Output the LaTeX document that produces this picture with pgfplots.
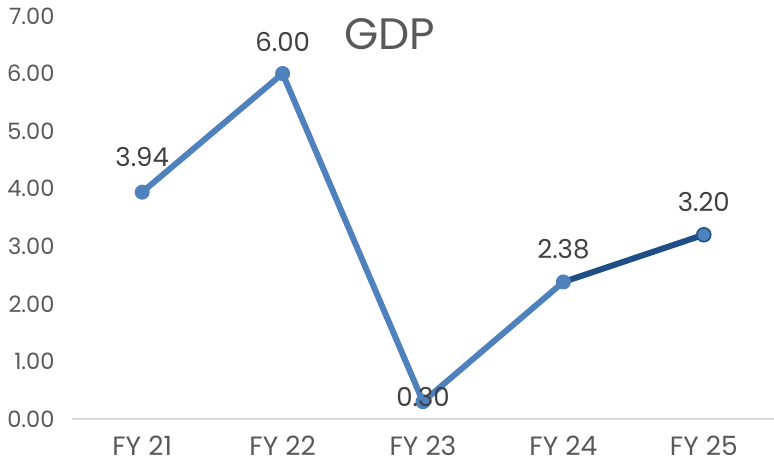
\documentclass[border=0pt]{standalone}
\usepackage{pgfplots}
\pgfplotsset{compat=1.18}
\usepackage{fontspec}
\setmainfont{Poppins}
\definecolor{lineblue}{HTML}{4F81BD}
\definecolor{darkblue}{HTML}{1F4E86}
\definecolor{tickgray}{HTML}{595959}
\definecolor{labgray}{HTML}{404040}
\definecolor{axgray}{HTML}{D9D9D9}
\begin{document}
\begin{tikzpicture}[x=1pt,y=1pt]
\path[use as bounding box] (-72,-49) rectangle (702,419);
\begin{axis}[
  at={(0,0)}, anchor=south west,
  scale only axis, width=702pt, height=403pt,
  xmin=-0.5, xmax=4.5, ymin=0, ymax=7,
  xtick={0,1,2,3,4},
  xticklabels={FY 21,FY 22,FY 23,FY 24,FY 25},
  ytick={0,1,...,7},
  yticklabel={\pgfmathprintnumber[fixed,fixed zerofill,precision=2]{\tick}},
  /pgf/number format/assume math mode=true,
  axis y line*=left,
  y axis line style={draw=none},
  axis x line*=bottom,
  x axis line style={axgray, line width=1.5pt, -},
  major tick length=0pt,
  tick style={draw=none},
  yticklabel style={font=\fontsize{22.5}{25}\selectfont, text=tickgray, anchor=east, xshift=-14pt},
  xticklabel style={font=\fontsize{26.5}{30}\selectfont, text=tickgray, yshift=-13pt},
  clip=false,
  title={GDP},
  title style={at={(axis description cs:0.453,0.94)}, anchor=center, font=\fontsize{44}{46}\selectfont, text=tickgray},
]
\addplot[darkblue, line width=6pt] coordinates {(3,2.38) (4,3.20)};
\addplot[lineblue, line width=6pt, mark=*, mark size=7pt, mark options={fill=lineblue, draw=lineblue, line width=1pt},
  nodes near coords, point meta=explicit,
  visualization depends on={\thisrow{off} \as \off},
  nodes near coords style={font=\fontsize{26}{28}\selectfont, text=labgray, anchor=center, yshift=\off pt, /pgf/number format/fixed, /pgf/number format/fixed zerofill, /pgf/number format/precision=2, /pgf/number format/assume math mode=true}]
  table[x=x, y=y, meta=y] {
x y off
0 3.94 35
1 6.00 32
2 0.30 5
3 2.38 33
};
\addplot[only marks, mark=*, mark size=7pt, mark options={fill=lineblue, draw=darkblue, line width=1.5pt},
  nodes near coords, point meta=explicit,
  nodes near coords style={font=\fontsize{26}{28}\selectfont, text=labgray, anchor=center, yshift=33pt, /pgf/number format/fixed, /pgf/number format/fixed zerofill, /pgf/number format/precision=2, /pgf/number format/assume math mode=true}]
  table[x=x, y=y, meta=y] {
x y
4 3.20
};
\end{axis}
\end{tikzpicture}
\end{document}
